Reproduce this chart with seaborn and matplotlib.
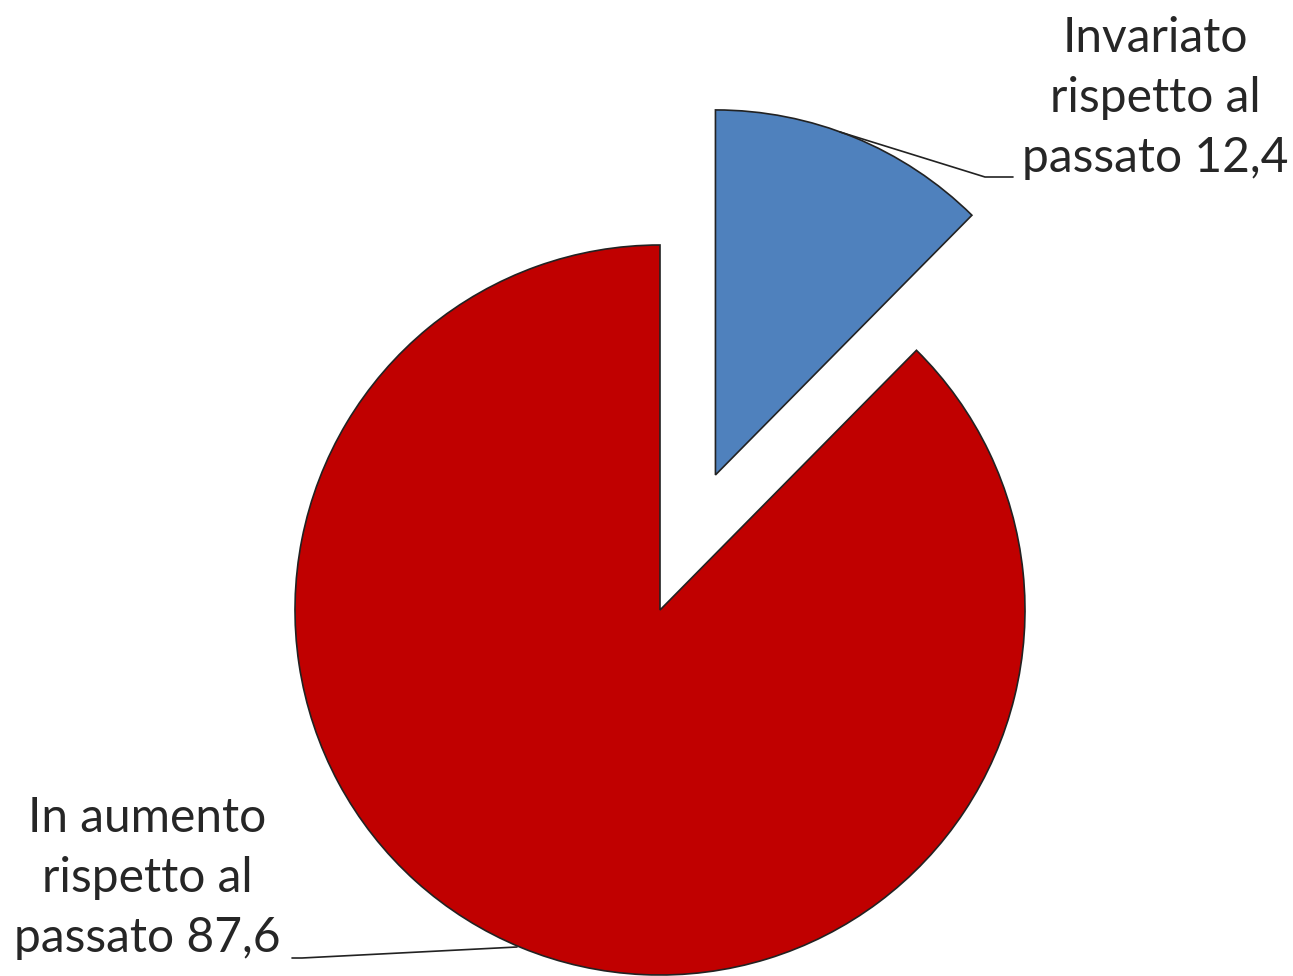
import matplotlib
matplotlib.use("Agg")
import matplotlib.pyplot as plt
import seaborn as sns
import numpy as np

categories = ["Invariato\nrispetto al\npassato 12,4", "In aumento\nrispetto al\npassato 87,6"]
values = [12.4, 87.6]
colors = ["#4F81BD", "#C00000"]

sns.set_theme(style="white")
plt.rcParams['font.family'] = ['Lato', 'DejaVu Sans']

W, H = 1293, 976
fig = plt.figure(figsize=(W/100, H/100), dpi=100)
ax = fig.add_axes([0, 0, 1, 1])

cx, cy, R = 660, H - 610, 365
wedges, _ = ax.pie(values, colors=colors, startangle=90, counterclock=False,
                   explode=[0.4 * R, 0.0], center=(cx, cy), radius=R,
                   wedgeprops=dict(edgecolor="#222222", linewidth=1.2))
ax.set_xlim(0, W)
ax.set_ylim(0, H)
ax.set_aspect('equal')
ax.axis('off')

fs = 34.5
ax.text(1155, H - 98, categories[0], ha='center', va='center', fontsize=fs,
        color='#262626', linespacing=1.45)
ax.text(147, H - 878, categories[1], ha='center', va='center', fontsize=fs,
        color='#262626', linespacing=1.45)

# leader lines
ax.plot([1013, 985, 840], [H - 177, H - 177, H - 132], color='#222222', lw=1.2)
ax.plot([292, 302, 517], [H - 958, H - 958, H - 947], color='#222222', lw=1.2)

fig.savefig("out.png", dpi=100)
